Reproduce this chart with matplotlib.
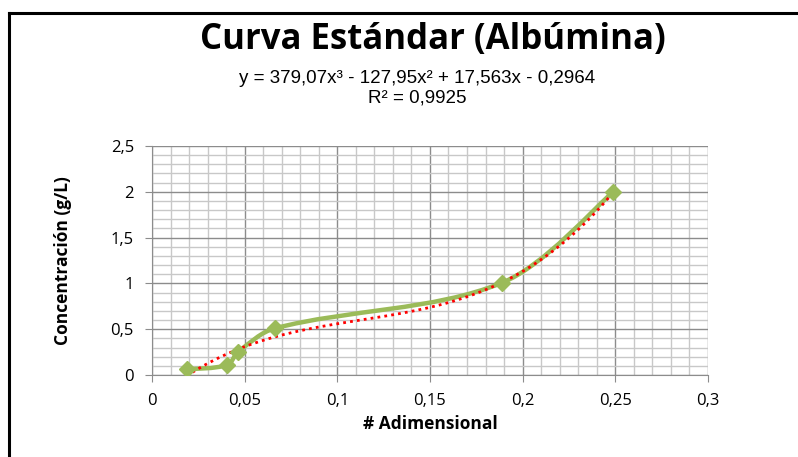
import matplotlib.pyplot as plt
import numpy as np
from matplotlib.path import Path
from matplotlib.patches import PathPatch
from matplotlib.ticker import MultipleLocator, FuncFormatter
from matplotlib.lines import Line2D

# data
adim = [0.0187, 0.0406, 0.0466, 0.0664, 0.1887, 0.249]
conc = [0.062, 0.11, 0.255, 0.51, 1.005, 2.0]

# cubic trendline coefficients shown on the chart
coef = [379.07, -127.95, 17.563, -0.2964]

green = '#9BBB59'

fig = plt.figure(figsize=(7.98, 4.57), dpi=100)
ax = fig.add_axes([0.1905, 0.1794, 0.887 - 0.1905, 0.6805 - 0.1794])
ax.set_xlim(0, 0.3)
ax.set_ylim(0, 2.5)

# smoothed line through the points, built in screen space so tangents look right
pts = ax.transData.transform(np.column_stack([adim, conc]))
n = len(pts)
verts = [pts[0]]
codes = [Path.MOVETO]

def tangent(i):
    if i == 0:
        return pts[1] - pts[0], 0.0, np.linalg.norm(pts[1] - pts[0])
    if i == n - 1:
        return pts[-1] - pts[-2], np.linalg.norm(pts[-1] - pts[-2]), 0.0
    return pts[i + 1] - pts[i - 1], np.linalg.norm(pts[i] - pts[i - 1]), np.linalg.norm(pts[i + 1] - pts[i])

for i in range(n - 1):
    t1, a1, b1 = tangent(i)
    t2, a2, b2 = tangent(i + 1)
    f1 = b1 / (a1 + b1) / 3 if a1 > 0 else 1 / 6
    f2 = a2 / (a2 + b2) / 3 if b2 > 0 else 1 / 6
    verts += [pts[i] + t1 * f1, pts[i + 1] - t2 * f2, pts[i + 1]]
    codes += [Path.CURVE4] * 3
verts = ax.transData.inverted().transform(np.array(verts))
ax.add_patch(PathPatch(Path(verts, codes), fill=False, edgecolor=green, lw=3.2, zorder=3))

# trendline
xt = np.linspace(adim[0], adim[-1], 200)
ax.plot(xt, np.polyval(coef, xt), color='#FF0000', lw=2, ls=(0, (1, 1.5)), zorder=4)

ax.plot(adim, conc, ls='none', marker='D', ms=8.5, color=green, zorder=5)

ax.xaxis.set_major_locator(MultipleLocator(0.05))
ax.xaxis.set_minor_locator(MultipleLocator(0.01))
ax.yaxis.set_major_locator(MultipleLocator(0.5))
ax.yaxis.set_minor_locator(MultipleLocator(0.1))

fmt = FuncFormatter(lambda v, p: ('%g' % round(v, 3)).replace('.', ','))
ax.xaxis.set_major_formatter(fmt)
ax.yaxis.set_major_formatter(fmt)

ax.grid(True, which='major', color='#8c8c8c', lw=1)
ax.grid(True, which='minor', color='#c8c8c8', lw=1)
ax.set_axisbelow(True)

for s in ['top', 'right']:
    ax.spines[s].set_visible(False)
for s in ['left', 'bottom']:
    ax.spines[s].set_color('#8c8c8c')

ax.tick_params(which='major', direction='out', length=5, color='#8c8c8c',
               labelsize=12, pad=8)
ax.tick_params(which='minor', length=0)
for lab in ax.get_xticklabels() + ax.get_yticklabels():
    lab.set_family('Open Sans')

ax.set_xlabel('# Adimensional', fontsize=12.5, fontweight='bold', family='Open Sans', labelpad=4)
ax.set_ylabel('Concentración (g/L)', fontsize=12.5, fontweight='bold', family='Open Sans', labelpad=28)

fig.text(0.543, 0.912, 'Curva Estándar (Albúmina)', ha='center', va='center',
         fontsize=25, fontweight='bold', family='Open Sans')
fig.text(0.523, 0.828, 'y = 379,07x³ - 127,95x² + 17,563x - 0,2964', ha='center', va='center',
         fontsize=13.5, family='Liberation Sans')
fig.text(0.523, 0.785, 'R² = 0,9925', ha='center', va='center',
         fontsize=13.5, family='Liberation Sans')

# outer frame lines (left and top)
fig.add_artist(Line2D([0.0113, 0.0113], [0, 0.972], color='black', lw=2.2, transform=fig.transFigure))
fig.add_artist(Line2D([0.0113, 1.0], [0.972, 0.972], color='black', lw=2.2, transform=fig.transFigure))

fig.savefig('out.png', dpi=100)
